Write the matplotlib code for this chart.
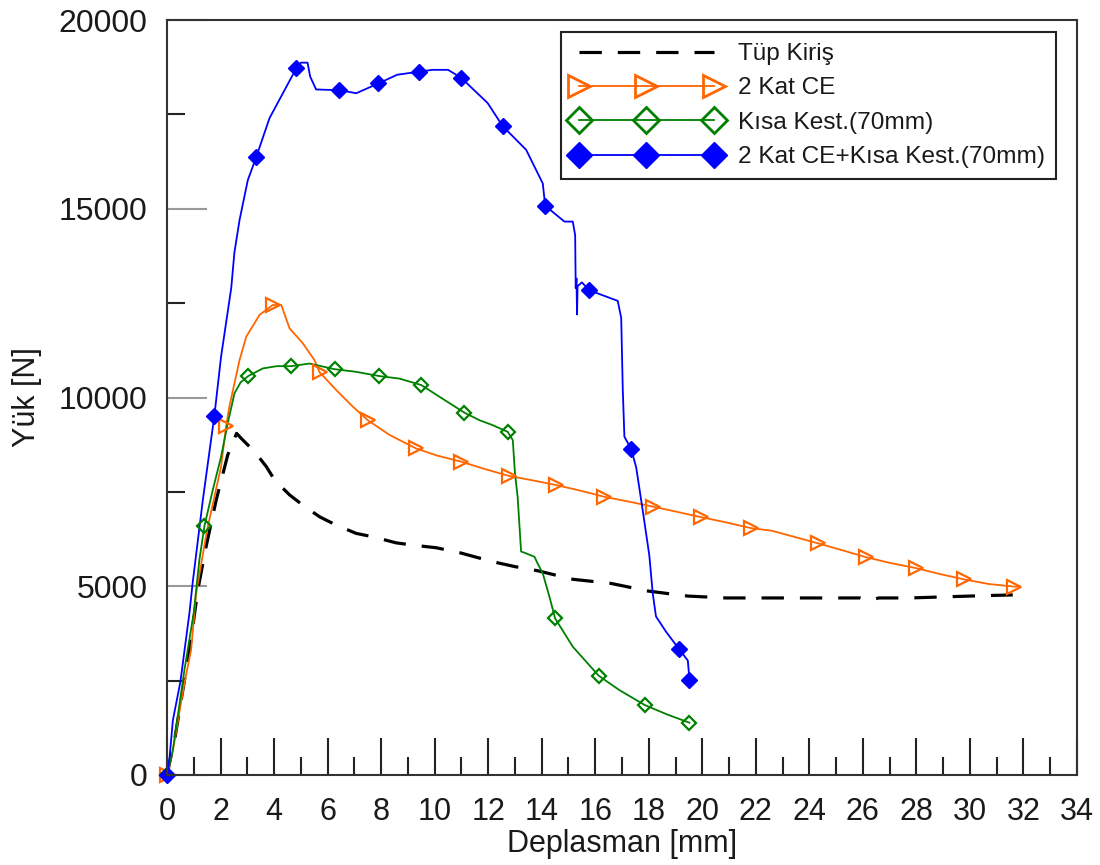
import numpy as np
import matplotlib
matplotlib.use("Agg")
import matplotlib.pyplot as plt
from matplotlib.lines import Line2D
from matplotlib.ticker import MultipleLocator

plt.rcParams['font.family'] = ['Liberation Sans', 'DejaVu Sans']

# values: displacement [mm] vs load [N]
series_labels = ["Tüp Kiriş", "2 Kat CE", "Kısa Kest.(70mm)", "2 Kat CE+Kısa Kest.(70mm)"]

tup_x = [0, 0.3, 0.65, 0.9, 1.15, 1.46, 1.84, 2.27, 2.6, 2.77, 3.08, 3.4, 3.71, 4.02, 4.58,
         5.07, 5.7, 6.32, 7.07, 7.69, 8.56, 9.18, 10.06, 10.93, 12.17, 13.0, 13.85, 15.16,
         16.59, 17.96, 19.0, 19.46, 20.89, 21.88, 23.44, 24.87, 25.9, 26.24, 26.6, 27.74,
         29.1, 30.47, 31.6]
tup_y = [0, 1000, 2500, 3600, 4900, 6050, 7290, 8480, 9050, 8920, 8700, 8450, 8170, 7815, 7420,
         7150, 6840, 6620, 6400, 6310, 6150, 6090, 6020, 5890, 5650, 5520, 5410, 5185,
         5075, 4875, 4780, 4740, 4690, 4690, 4690, 4690, 4690, 4630, 4690, 4690,
         4720, 4750, 4770]

ce_x = [0, 0.22, 0.65, 0.9, 1.09, 1.5, 2.02, 2.21, 2.33, 2.71, 2.96, 3.46, 3.95, 4.27, 4.58,
        5.07, 5.51, 5.70, 6.32, 6.94, 7.50, 8.31, 9.31, 10.1, 10.99, 11.9, 12.79, 13.7,
        14.54, 15.4, 16.34, 17.2, 18.15, 19.0, 19.96, 20.9, 21.82, 22.6, 24.31, 25.2, 26.12,
        27.0, 27.99, 28.9, 29.79, 30.7, 31.66, 31.85]
ce_y = [0, 660, 2430, 3310, 4820, 6500, 8170, 9250, 9760, 10990, 11610, 12190, 12450, 12450, 11830,
        11440, 10990, 10670, 10200, 9760, 9400, 9010, 8650, 8460, 8300, 8100, 7920, 7800,
        7680, 7540, 7370, 7250, 7110, 6980, 6830, 6690, 6540, 6470, 6140, 5960, 5770,
        5620, 5480, 5320, 5180, 5060, 4990, 4990]
ce_mark_x = [0, 2.21, 3.95, 5.70, 7.50, 9.31, 10.99, 12.79, 14.54, 16.34, 18.15, 19.96, 21.82,
             24.31, 26.12, 27.99, 29.79, 31.66]
ce_mark_y = [0, 9250, 12450, 10670, 9400, 8650, 8300, 7920, 7680, 7370, 7110, 6830, 6540,
             6140, 5770, 5480, 5180, 4990]

kk_x = [0, 0.22, 0.65, 1.0, 1.21, 1.40, 1.71, 2.02, 2.27, 2.52, 2.75, 3.04, 3.58, 4.1, 4.64,
        5.32, 6.26, 7.07, 7.91, 8.69, 9.50, 10.18, 11.11, 11.67, 12.16, 12.73, 12.92, 13.0,
        13.10, 13.23, 13.42, 13.73, 13.85, 14.04, 14.29, 14.50, 15.16, 16.13, 16.9, 17.86,
        18.7, 19.52]
kk_y = [0, 660, 2780, 4300, 5700, 6600, 7550, 8430, 9320, 10110, 10400, 10570, 10770, 10830, 10830,
        10900, 10750, 10680, 10570, 10500, 10330, 10020, 9600, 9400, 9270, 9090, 8870, 8000,
        7370, 5920, 5870, 5780, 5600, 5340, 4720, 4150, 3400, 2630, 2250, 1850,
        1600, 1385]
kk_mark_x = [0, 1.40, 3.04, 4.64, 6.26, 7.91, 9.50, 11.11, 12.73, 14.50, 16.13, 17.86, 19.52]
kk_mark_y = [0, 6600, 10570, 10830, 10750, 10570, 10330, 9600, 9090, 4150, 2630, 1850, 1385]

both_x = [0, 0.1, 0.22, 0.5, 0.84, 0.96, 1.34, 1.77, 2.02, 2.4, 2.52, 2.71, 3.02, 3.33, 3.83,
          4.33, 4.83, 5.0, 5.25, 5.35, 5.57, 6.0, 6.42, 7.07, 7.9, 8.6, 9.41, 9.92, 10.5,
          10.99, 11.98, 12.54, 13.42, 14.04, 14.13, 14.85, 15.16, 15.25, 15.27, 15.30, 15.32,
          15.34, 15.5, 15.78, 16.84, 16.97, 17.03, 17.09, 17.34, 17.53, 17.77, 18.02, 18.15,
          18.27, 18.65, 19.14, 19.46, 19.52]
both_y = [0, 500, 1450, 2470, 4300, 5100, 7290, 9520, 11080, 12900, 13850, 14700, 15760, 16360, 17400,
          18060, 18720, 18870, 18870, 18500, 18160, 18150, 18145, 18060, 18320, 18550, 18630, 18680, 18680,
          18470, 17800, 17190, 16560, 15670, 15080, 14660, 14660, 14300, 12900, 13150, 12200,
          12950, 13050, 12840, 12560, 12110, 10180, 8960, 8640, 8150, 7030, 5820, 4800,
          4200, 3790, 3330, 3030, 2520]
both_mark_x = [0, 1.77, 3.33, 4.83, 6.42, 7.9, 9.41, 10.99, 12.54, 14.13, 15.78, 17.34, 19.14, 19.52]
both_mark_y = [0, 9520, 16360, 18720, 18145, 18320, 18630, 18470, 17190, 15080, 12840, 8640, 3330, 2520]

x_ticks = np.arange(0, 35, 2)
y_ticks = np.arange(0, 20001, 5000)

ORANGE = '#ff6600'
GREEN = '#008000'
BLUE = '#0000ff'
TXT = '#1a1a1a'

fig = plt.figure(figsize=(11, 8.65), dpi=100)
ax = fig.add_axes([167 / 1100, 1 - 775 / 865, 910 / 1100, 755 / 865])

# lines
ax.plot(tup_x, tup_y, color='black', lw=2.3, dashes=(7, 5))
ax.plot(ce_x, ce_y, color=ORANGE, lw=1.3)
ax.plot(kk_x, kk_y, color=GREEN, lw=1.3)
ax.plot(both_x, both_y, color=BLUE, lw=1.3)

# markers
ax.plot(ce_mark_x, ce_mark_y, ls='none', marker='>', ms=10, mfc='none', mec=ORANGE, mew=1.6,
        clip_on=False)
ax.plot(kk_mark_x, kk_mark_y, ls='none', marker='D', ms=7, mfc='none', mec=GREEN, mew=1.6,
        clip_on=False)
ax.plot(both_mark_x, both_mark_y, ls='none', marker='D', ms=8.5, mfc=BLUE, mec=BLUE, mew=1,
        clip_on=False)

ax.set_xlim(0, 34)
ax.set_ylim(0, 20000)
ax.set_xticks(x_ticks)
ax.set_yticks(y_ticks)
ax.xaxis.set_minor_locator(MultipleLocator(1))
ax.yaxis.set_minor_locator(MultipleLocator(2500))
ax.ticklabel_format(useOffset=False, style='plain')

ax.tick_params(axis='x', which='major', direction='in', length=27, width=1.5, color='#222222',
               labelsize=22, labelcolor=TXT, pad=16)
ax.tick_params(axis='x', which='minor', direction='in', length=13, width=1.5, color='#222222')
ax.tick_params(axis='y', which='major', direction='in', length=29, width=1.5, color='#999999',
               labelsize=23, labelcolor=TXT, pad=14)
ax.tick_params(axis='y', which='minor', direction='in', length=13, width=1.5, color='#222222')

for s in ax.spines.values():
    s.set_color('#333333')
    s.set_linewidth(1.5)

ax.set_xlabel("Deplasman [mm]", fontsize=22, color=TXT, labelpad=1)
ax.set_ylabel("Yük [N]", fontsize=22, color=TXT, labelpad=12)

handles = [
    Line2D([], [], color='black', lw=2.3, dashes=(7, 5)),
    Line2D([], [], color=ORANGE, lw=1.3, marker='>', ms=16, mfc='none', mec=ORANGE, mew=2),
    Line2D([], [], color=GREEN, lw=1.3, marker='D', ms=13, mfc='none', mec=GREEN, mew=2),
    Line2D([], [], color=BLUE, lw=1.3, marker='D', ms=13, mfc=BLUE, mec=BLUE),
]
leg = ax.legend(handles, series_labels, loc='upper right',
                bbox_to_anchor=(1056 / 1100, 1 - 32 / 865), bbox_transform=fig.transFigure,
                borderaxespad=0, numpoints=3, handlelength=6.1, handletextpad=0.7,
                labelspacing=0.5, borderpad=0.45, fontsize=17.6, fancybox=False,
                framealpha=1, edgecolor='#222222', labelcolor=TXT)
leg.get_frame().set_linewidth(1.5)

fig.savefig("out.png", dpi=100)
